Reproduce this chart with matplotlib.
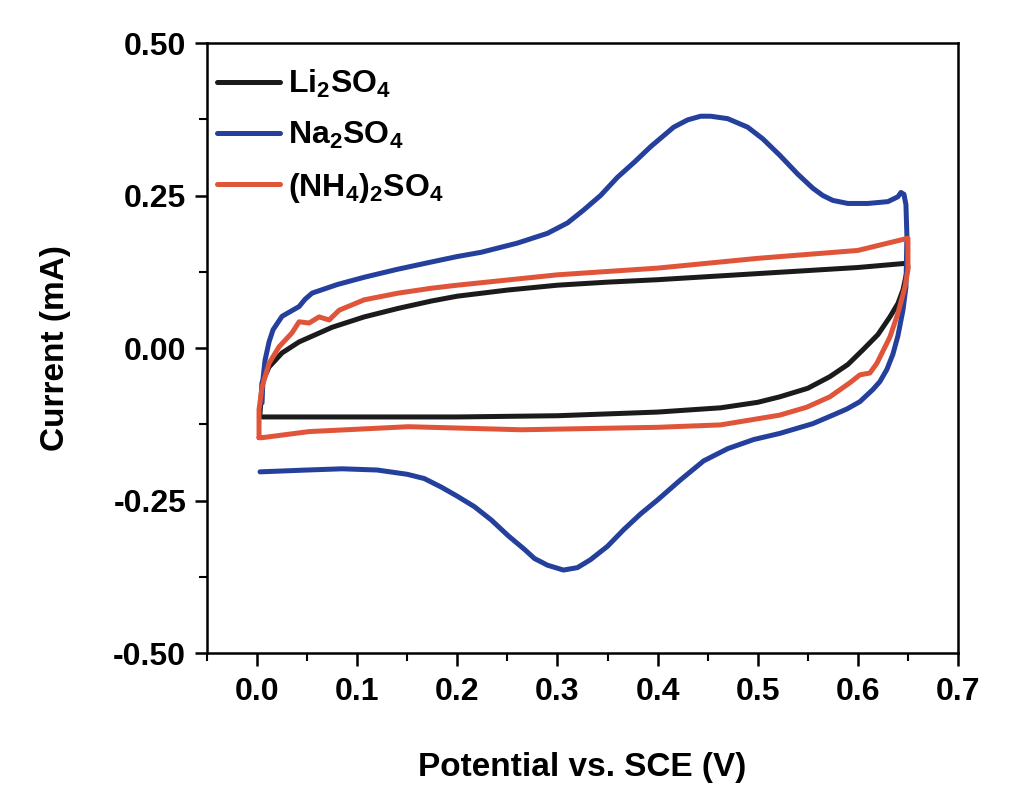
import numpy as np
import matplotlib.pyplot as plt
from matplotlib.ticker import MultipleLocator

plt.rcParams['font.family'] = ['Liberation Sans', 'DejaVu Sans']
plt.rcParams['font.weight'] = 'bold'
plt.rcParams['mathtext.fontset'] = 'custom'
plt.rcParams['mathtext.rm'] = 'Liberation Sans:bold'
plt.rcParams['mathtext.default'] = 'rm'

# cyclic voltammograms, potential (V vs SCE) and current (mA)
li_v = [0.003, 0.005, 0.012, 0.025, 0.042, 0.075, 0.107, 0.141, 0.174, 0.200,
        0.250, 0.300, 0.350, 0.400, 0.450, 0.500, 0.550, 0.600, 0.649, 0.650,
        0.645, 0.640, 0.632, 0.620, 0.605, 0.590, 0.572, 0.550, 0.522, 0.500,
        0.463, 0.400, 0.300, 0.200, 0.100, 0.005]
li_i = [-0.107, -0.057, -0.031, -0.008, 0.010, 0.034, 0.051, 0.065, 0.077, 0.085,
        0.095, 0.103, 0.108, 0.112, 0.117, 0.122, 0.127, 0.132, 0.139, 0.133,
        0.095, 0.073, 0.051, 0.022, -0.003, -0.027, -0.047, -0.066, -0.080, -0.089,
        -0.098, -0.105, -0.111, -0.113, -0.113, -0.113]

na_v = [0.003, 0.050, 0.085, 0.120, 0.150, 0.167, 0.184, 0.200, 0.217, 0.234,
        0.251, 0.267, 0.277, 0.290, 0.306, 0.320, 0.333, 0.350, 0.366, 0.383,
        0.400, 0.423, 0.446, 0.470, 0.496, 0.522, 0.555, 0.575, 0.589, 0.602,
        0.615, 0.622, 0.629, 0.635, 0.640, 0.645, 0.648, 0.649, 0.648, 0.646,
        0.643, 0.640, 0.630, 0.610, 0.590, 0.575, 0.565, 0.555, 0.540, 0.522,
        0.505, 0.490, 0.470, 0.453, 0.443, 0.430, 0.416, 0.393, 0.377, 0.360,
        0.343, 0.326, 0.310, 0.290, 0.260, 0.224, 0.200, 0.174, 0.140, 0.107,
        0.080, 0.055, 0.048, 0.042, 0.025, 0.016, 0.012, 0.008, 0.006, 0.005]
na_i = [-0.203, -0.200, -0.198, -0.200, -0.207, -0.214, -0.228, -0.243, -0.260, -0.282,
        -0.308, -0.330, -0.345, -0.356, -0.364, -0.360, -0.347, -0.325, -0.298, -0.272,
        -0.249, -0.216, -0.185, -0.165, -0.150, -0.140, -0.124, -0.110, -0.100, -0.088,
        -0.068, -0.055, -0.035, -0.010, 0.020, 0.062, 0.100, 0.182, 0.235, 0.252,
        0.255, 0.248, 0.240, 0.237, 0.237, 0.242, 0.250, 0.262, 0.285, 0.316,
        0.343, 0.362, 0.376, 0.380, 0.380, 0.374, 0.362, 0.330, 0.305, 0.280,
        0.250, 0.226, 0.205, 0.188, 0.172, 0.157, 0.150, 0.141, 0.129, 0.116,
        0.104, 0.090, 0.080, 0.068, 0.052, 0.030, 0.010, -0.020, -0.050, -0.090]

nh_v = [0.002, 0.002, 0.005, 0.012, 0.022, 0.035, 0.042, 0.052, 0.062, 0.072,
        0.082, 0.107, 0.141, 0.174, 0.200, 0.300, 0.400, 0.500, 0.600, 0.650,
        0.650, 0.647, 0.640, 0.632, 0.619, 0.612, 0.602, 0.592, 0.572, 0.549,
        0.522, 0.463, 0.400, 0.264, 0.151, 0.052, 0.005, 0.002]
nh_i = [-0.147, -0.101, -0.064, -0.025, 0.002, 0.025, 0.043, 0.041, 0.051, 0.046,
        0.062, 0.079, 0.090, 0.098, 0.103, 0.120, 0.131, 0.147, 0.160, 0.180,
        0.128, 0.100, 0.057, 0.018, -0.025, -0.041, -0.044, -0.057, -0.080, -0.097,
        -0.110, -0.126, -0.130, -0.134, -0.129, -0.137, -0.147, -0.147]

fig = plt.figure(figsize=(10.17, 7.88), dpi=100)
ax = fig.add_axes([0.2035, 0.1713, 0.7385, 0.7741])

lw = 3.6
style = dict(lw=lw, solid_joinstyle='round', solid_capstyle='round')
ax.plot(li_v, li_i, color='#1b1b1b', label=r'Li$_2$SO$_4$', **style)
ax.plot(na_v, na_i, color='#24409c', label=r'Na$_2$SO$_4$', **style)
ax.plot(nh_v, nh_i, color='#e0553a', label=r'(NH$_4$)$_2$SO$_4$', **style)

ax.set_xlim(-0.05, 0.7)
ax.set_ylim(-0.5, 0.5)
xt = np.arange(0, 0.71, 0.1)
yt = np.arange(-0.5, 0.51, 0.25)
ax.set_xticks(xt)
ax.set_xticklabels([f'{t:.1f}' for t in xt])
ax.set_yticks(yt)
ax.set_yticklabels([f'{t:.2f}' for t in yt])
ax.xaxis.set_minor_locator(MultipleLocator(0.05))
ax.yaxis.set_minor_locator(MultipleLocator(0.125))

ax.tick_params(which='major', direction='out', length=9, width=1.8, labelsize=23, pad=6)
ax.tick_params(axis='x', which='major', pad=8)
ax.tick_params(which='minor', direction='out', length=6, width=1.5)
for s in ax.spines.values():
    s.set_linewidth(1.8)

ax.set_xlabel('Potential vs. SCE (V)', fontsize=24, fontweight='bold', va='center')
ax.set_ylabel('Current (mA)', fontsize=24, fontweight='bold', va='center')
ax.xaxis.set_label_coords(0.5, -0.187)
ax.yaxis.set_label_coords(-0.202, 0.5)

ax.legend(loc='upper left', frameon=False, fontsize=23, handlelength=2.0,
          handletextpad=0.25, labelspacing=0.62, borderaxespad=0.0,
          borderpad=0.3, bbox_to_anchor=(0.0, 0.975))

fig.savefig('out.png', dpi=100, facecolor='white')
